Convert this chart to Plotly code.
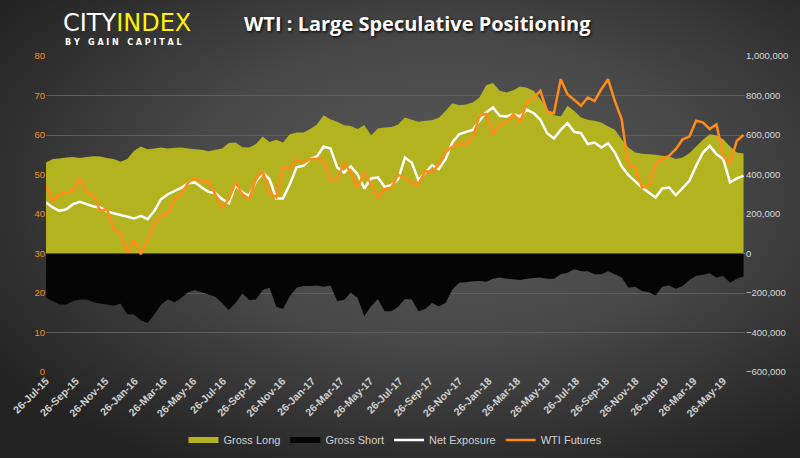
import base64
import numpy as np
import pandas as pd
import plotly.graph_objects as go

# fortnightly readings, positions in thousands of contracts
wti_futures = [47.3, 43.3, 45.0, 45.4, 45.9, 49.2, 45.4, 44.6, 40.8, 41.2,
               36.2, 35.3, 30.2, 33.6, 29.8, 33.2, 37.8, 39.5, 40.2, 43.8,
               45.0, 48.0, 49.2, 48.1, 48.4, 45.0, 41.6, 43.8, 48.0, 45.0,
               43.8, 48.8, 50.9, 45.4, 44.2, 51.8, 51.5, 53.9, 52.9, 53.9,
               54.0, 53.7, 48.4, 48.4, 53.0, 50.5, 46.7, 50.5, 47.6, 44.2,
               46.3, 46.7, 49.9, 49.2, 47.8, 47.6, 50.9, 50.5, 52.6, 55.6,
               57.1, 57.9, 57.7, 59.1, 64.9, 65.3, 60.2, 62.7, 63.2, 65.3,
               63.2, 68.2, 69.5, 71.2, 65.9, 65.5, 74.1, 70.3, 68.9, 67.4,
               69.5, 68.6, 71.6, 74.1, 68.6, 64.0, 52.2, 51.8, 46.7, 47.1,
               52.6, 54.0, 54.7, 56.4, 58.9, 59.6, 63.6, 63.2, 61.5, 62.7,
               54.6, 52.9, 58.5, 60.0]

net_exposure = [258, 233, 216, 224, 250, 262, 250, 238, 233, 213,
                204, 194, 187, 177, 191, 174, 216, 275, 300, 317,
                334, 356, 360, 334, 312, 306, 275, 255, 346, 309,
                292, 363, 410, 376, 279, 279, 351, 436, 444, 478,
                491, 542, 532, 436, 410, 441, 402, 329, 380, 385,
                338, 346, 376, 486, 461, 373, 410, 447, 427, 478,
                562, 604, 616, 626, 672, 714, 739, 697, 694, 706,
                694, 728, 711, 677, 609, 582, 626, 660, 616, 609,
                554, 562, 537, 559, 511, 441, 397, 363, 334, 309,
                284, 329, 334, 295, 329, 368, 444, 511, 545, 503,
                478, 360, 380, 393]

gross_long = [461, 478, 481, 486, 488, 484, 488, 493, 491, 484,
              478, 464, 478, 520, 542, 528, 532, 537, 532, 535,
              537, 532, 528, 525, 518, 525, 532, 559, 562, 538,
              537, 554, 592, 565, 576, 562, 604, 613, 613, 630,
              653, 700, 680, 667, 650, 646, 630, 650, 599, 633,
              638, 640, 653, 689, 677, 667, 672, 675, 687, 722,
              761, 751, 755, 765, 790, 852, 863, 824, 815, 827,
              846, 839, 824, 782, 731, 700, 694, 748, 722, 689,
              677, 672, 663, 643, 626, 579, 537, 511, 505, 503,
              500, 495, 491, 478, 486, 508, 542, 576, 604, 599,
              579, 542, 511, 506]

gross_short = [-224, -241, -258, -258, -241, -233, -233, -247, -253, -258,
               -264, -253, -309, -309, -338, -352, -309, -258, -233, -247,
               -224, -196, -185, -196, -207, -219, -250, -287, -250, -202,
               -236, -233, -185, -173, -270, -281, -216, -173, -165, -165,
               -162, -168, -162, -241, -236, -199, -224, -318, -267, -230,
               -292, -292, -270, -230, -233, -292, -281, -250, -267, -250,
               -182, -148, -145, -141, -139, -143, -128, -122, -128, -131,
               -134, -128, -124, -122, -128, -128, -105, -97, -80, -90,
               -90, -105, -105, -90, -105, -122, -173, -168, -190, -196,
               -213, -168, -162, -179, -165, -134, -114, -107, -100, -122,
               -114, -148, -128, -117]

dates = pd.date_range("2015-07-26", periods=len(wti_futures), freq="14D")
tick_dates = pd.date_range("2015-07-01", "2019-05-01", freq="2MS") + pd.Timedelta(days=25)

W, H = 800, 458
L, R, T, B = 46, 55, 56, 86
pw, ph = W - L - R, H - T - B

# radial grey backdrop
svg = f"""<svg xmlns='http://www.w3.org/2000/svg' width='{W}' height='{H}' preserveAspectRatio='none'>
<defs><radialGradient id='g' cx='56%' cy='42%' r='68%'>
<stop offset='0' stop-color='#5a5a5a'/><stop offset='0.5' stop-color='#474747'/>
<stop offset='1' stop-color='#232323'/></radialGradient></defs>
<rect width='{W}' height='{H}' fill='url(#g)'/></svg>"""
bg_uri = "data:image/svg+xml;base64," + base64.b64encode(svg.encode()).decode()

fig = go.Figure()

fig.add_trace(go.Scatter(
    x=dates, y=np.array(gross_long) * 1000, name="Gross Long",
    mode="none", fill="tozeroy", fillcolor="#b3b21f", yaxis="y"
))
fig.add_trace(go.Scatter(
    x=dates, y=np.array(gross_short) * 1000, name="Gross Short",
    mode="none", fill="tozeroy", fillcolor="#050505", yaxis="y"
))
fig.add_trace(go.Scatter(
    x=dates, y=np.array(net_exposure) * 1000, name="Net Exposure",
    mode="lines", line=dict(color="#ffffff", width=2.5), yaxis="y"
))
fig.add_trace(go.Scatter(
    x=dates, y=wti_futures, name="WTI Futures",
    mode="lines", line=dict(color="#ff8c1a", width=2.5), yaxis="y2"
))

fig.update_layout(
    width=W, height=H,
    margin=dict(l=L, r=R, t=T, b=B, autoexpand=False),
    paper_bgcolor="#3a3a3a",
    plot_bgcolor="rgba(0,0,0,0)",
    font=dict(family="Liberation Sans", color="#d9d9d9", size=10),
    showlegend=True,
    legend=dict(orientation="h", x=0.5, xanchor="center", y=-0.215, yanchor="middle",
                font=dict(size=11, color="#d0d0d0"), bgcolor="rgba(0,0,0,0)",
                traceorder="normal", itemwidth=30),
    xaxis=dict(
        type="date", range=["2015-07-26", "2019-07-10"],
        tickvals=tick_dates, tickformat="%d-%b-%y", tickangle=-45,
        tickfont=dict(family="Liberation Sans", size=10.5, color="#d0d0d0", weight="bold"),
        showgrid=False, zeroline=False, showline=False, ticks=""
    ),
    yaxis=dict(
        side="right", range=[-600000, 1000000], dtick=200000, tickformat=",d",
        tickfont=dict(size=9.5, color="#d9d9d9"),
        gridcolor="#5e5e5e", gridwidth=1, zeroline=True, zerolinecolor="#8a8a8a",
        zerolinewidth=1, showline=False, ticks=""
    ),
    yaxis2=dict(
        side="left", overlaying="y", range=[0, 80], dtick=10,
        tickfont=dict(size=9.5, color="#f39020"),
        showgrid=False, zeroline=False, showline=False, ticks=""
    ),
    images=[dict(
        source=bg_uri, xref="paper", yref="paper",
        x=-L / pw, y=1 + T / ph, sizex=W / pw, sizey=H / ph,
        xanchor="left", yanchor="top", sizing="stretch", layer="below"
    )],
)

# logo and title
fig.add_annotation(
    xref="paper", yref="paper", x=(61 - L) / pw, y=1 + (T - 23) / ph,
    xanchor="left", yanchor="middle", showarrow=False,
    text="CITY<span style='color:#fff200'>INDEX</span>",
    font=dict(family="DejaVu Sans", size=24, color="#ffffff")
)
fig.add_annotation(
    xref="paper", yref="paper", x=(63 - L) / pw, y=1 + (T - 42) / ph,
    xanchor="left", yanchor="middle", showarrow=False,
    text="B Y   G A I N   C A P I T A L",
    font=dict(family="DejaVu Sans", size=8, color="#ffffff", weight="bold")
)
fig.add_annotation(
    xref="paper", yref="paper", x=(417 - L) / pw, y=1 + (T - 24) / ph,
    xanchor="center", yanchor="middle", showarrow=False,
    text="<b>WTI : Large Speculative Positioning</b>",
    font=dict(family="Open Sans", size=20, color="#ffffff", shadow="1px 1px 3px #000000")
)

# page body has a default 8px margin; drop it so the figure sits at the window corner
fig.write_html("out.html", config={"displayModeBar": False},
               post_script="document.body.style.margin='0';")
